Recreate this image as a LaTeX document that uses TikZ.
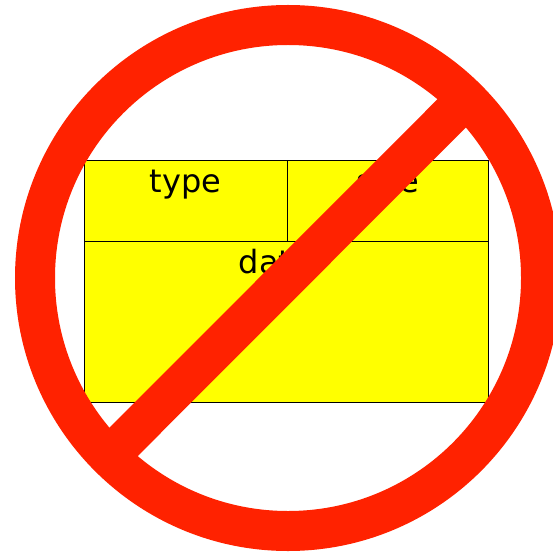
\documentclass[tikz,border=0pt]{standalone}
\usepackage{fontspec}
\setmainfont{DejaVu Sans}
\definecolor{BanRed}{HTML}{FF2200}
\definecolor{BoxYellow}{HTML}{FFFF00}
\tikzset{
  fieldbox/.style={
    draw=black,
    fill=BoxYellow,
    line width=1.2pt,
    anchor=north west,
    inner sep=0pt,
    text depth=0pt
  },
  fieldtext/.style={
    font=\fontsize{32pt}{36pt}\selectfont,
    anchor=base
  },
  banline/.style={draw=BanRed, line width=40pt}
}
\begin{document}
\begin{tikzpicture}[x=1pt,y=-1pt]
  \useasboundingbox (0,0) rectangle (552,553);
  \node[fieldbox, minimum width=203.5pt, minimum height=81pt] (typebox) at (83.5,159.7) {};
  \node[fieldbox, minimum width=201.5pt, minimum height=81pt] (sizebox) at (286.5,159.7) {};
  \node[fieldbox, minimum width=404.5pt, minimum height=161pt] (databox) at (83.5,240.5) {};
  \node[fieldtext] (typelabel) at (185.5,192.5) {type};
  \node[fieldtext] (sizelabel) at (388,192.5) {size};
  \node[fieldtext] (datalabel) at (275,273.5) {data};
  \node[circle, banline, fill=none, minimum size=506pt, inner sep=0pt] (ring) at (288,278) {};
  \coordinate (slashstart) at (118,447.5);
  \coordinate (slashend) at (458,107);
  \draw[banline] (slashstart) -- (slashend);
\end{tikzpicture}
\end{document}
